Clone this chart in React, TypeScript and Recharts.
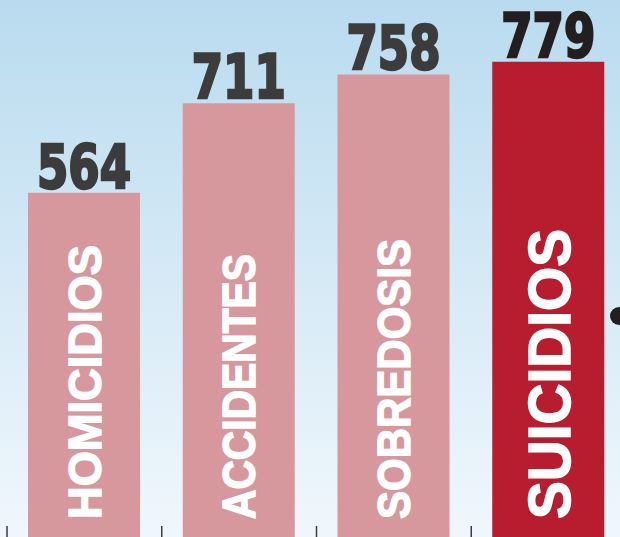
import { BarChart, Bar, XAxis, YAxis, Cell, LabelList } from "recharts";

const categories = ["HOMICIDIOS", "ACCIDENTES", "SOBREDOSIS", "SUICIDIOS"];
const deaths = [564, 711, 758, 779];
const highlighted = [false, false, false, true];

const data = categories.map((name, i) => ({
  name,
  value: deaths[i],
  highlight: highlighted[i],
}));

const PINK = "#d6989d";
const RED = "#b71c2f";

// the source font (Futura-like) is narrower than what we have, so squeeze the names
const nameLength: Record<string, number> = {
  HOMICIDIOS: 274,
  ACCIDENTES: 265,
  SOBREDOSIS: 280,
  SUICIDIOS: 290,
};

// value on top of each bar
const ValueLabel = (props: any) => {
  const { x, y, width, index, value } = props;
  const hl = data[index]?.highlight;
  const c = hl ? "#231f20" : "#3c3c3c";
  return (
    <text
      x={x + width / 2}
      y={y - 5}
      textAnchor="middle"
      fill={c}
      stroke={c}
      strokeWidth={2.5}
      fontFamily="'DejaVu Sans Condensed', 'DejaVu Sans', sans-serif"
      fontWeight="bold"
      fontSize={60}
      textLength={94}
      lengthAdjust="spacingAndGlyphs"
    >
      {value}
    </text>
  );
};

// rotated category name inside the bar
const NameLabel = (props: any) => {
  const { x, y, width, height, index } = props;
  const d = data[index];
  const fs = d?.highlight ? 60 : 46;
  const cx = x + width / 2 + fs * 0.36;
  const by = y + height - 18;
  return (
    <text
      x={cx}
      y={by}
      transform={`rotate(-90 ${cx} ${by})`}
      fill="#ffffff"
      stroke="#ffffff"
      strokeWidth={1.5}
      fontFamily="'Liberation Sans', Arial, sans-serif"
      fontWeight="bold"
      fontSize={fs}
      textLength={nameLength[d?.name] ?? undefined}
      lengthAdjust="spacingAndGlyphs"
    >
      {d?.name}
    </text>
  );
};

const BoundaryTick = (props: any) => {
  const { x, y, payload } = props;
  const bx = x - (payload?.offset || 77);
  return <line x1={bx} x2={bx} y1={y - 11} y2={y} stroke="#3a3a3a" strokeWidth={1.5} />;
};

export default function App() {
  return (
    <div
      style={{
        position: "relative",
        width: 620,
        height: 537,
        overflow: "hidden",
        background: "linear-gradient(#b9dbef, #f0f7fc)",
      }}
    >
      <style>{`body{margin:0;overflow:hidden}`}</style>
      <BarChart
        width={626}
        height={547}
        data={data}
        margin={{ top: 0, right: 0, left: 7, bottom: 0 }}
      >
        <XAxis
          dataKey="name"
          height={10}
          axisLine={false}
          tickLine={false}
          tickSize={0}
          tickMargin={0}
          interval={0}
          tick={<BoundaryTick />}
        />
        <YAxis hide domain={[0, 880]} />
        <Bar dataKey="value" barSize={112} isAnimationActive={false}>
          {data.map((d) => (
            <Cell key={d.name} fill={d.highlight ? RED : PINK} />
          ))}
          <LabelList dataKey="value" content={<ValueLabel />} />
          <LabelList dataKey="name" content={<NameLabel />} />
        </Bar>
      </BarChart>
      <div
        style={{
          position: "absolute",
          left: 610,
          top: 307,
          width: 18,
          height: 18,
          borderRadius: "50%",
          background: "#231f20",
        }}
      />
    </div>
  );
}
